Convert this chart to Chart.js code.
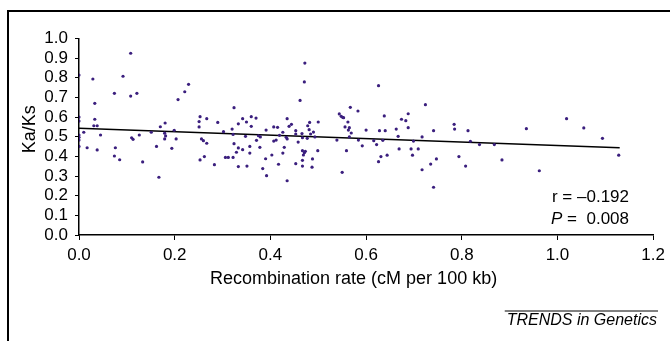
<!DOCTYPE html>
<html>
<head>
<meta charset="utf-8">
<script src="https://cdn.jsdelivr.net/npm/chart.js@4"></script>
<style>
  body { margin: 0; background: #fff; }
  canvas { display: block; }
</style>
</head>
<body>
<canvas id="chart" width="670" height="341"></canvas>
<script>
// recombination rate (cM per 100 kb) for each gene
const recombRate = [
  0.000, 0.029, 0.092, 0.074, 0.108, 0.121, 0.229, 0.221, 0.207, 0.033,
  0.000, 0.000, 0.033, 0.031, 0.038, 0.010, 0.000, 0.000, 0.000, 0.045,
  0.000, 0.017, 0.038, 0.074, 0.076, 0.085, 0.110, 0.113, 0.126, 0.133,
  0.151, 0.162, 0.167, 0.170, 0.180, 0.179, 0.181, 0.179, 0.199, 0.203,
  0.194, 0.253, 0.251, 0.251, 0.267, 0.290, 0.302, 0.256, 0.260, 0.267,
  0.253, 0.262, 0.283, 0.108,
  0.472, 0.471, 0.462, 0.324, 0.544, 0.548, 0.551, 0.553, 0.567, 0.583,
  0.562, 0.556, 0.565, 0.563, 0.569, 0.600, 0.565, 0.584, 0.539, 0.592,
  0.559, 0.550, 0.342, 0.360, 0.370, 0.350, 0.333, 0.360, 0.320, 0.322,
  0.348, 0.375, 0.379, 0.371, 0.391, 0.407, 0.415, 0.435, 0.444, 0.439,
  0.426, 0.419, 0.433, 0.435, 0.407, 0.412, 0.453, 0.453, 0.466, 0.458,
  0.482, 0.478, 0.500, 0.481, 0.490, 0.484, 0.477, 0.467, 0.493, 0.324,
  0.333, 0.342, 0.329, 0.357, 0.357, 0.378, 0.306, 0.312, 0.322, 0.333,
  0.351, 0.384, 0.392, 0.390, 0.403, 0.426, 0.429, 0.417, 0.435, 0.453,
  0.467, 0.467, 0.467, 0.471, 0.473, 0.469, 0.488, 0.487, 0.499,
  0.626, 0.724, 0.638, 0.688, 0.674, 0.683, 0.688, 0.663, 0.628, 0.640,
  0.667, 0.741, 0.784, 0.785, 0.813, 0.717, 0.699, 0.616, 0.635, 0.622,
  0.669, 0.694, 0.709, 0.697, 0.631, 0.644, 0.626, 0.747, 0.735, 0.717,
  0.741, 0.794, 0.808, 0.818, 0.837, 0.868, 0.884,
  1.019, 0.935, 1.055, 1.094, 0.962, 1.128
];

// Ka/Ks for the same genes
const kaKs = [
  0.814, 0.794, 0.808, 0.721, 0.707, 0.721, 0.767, 0.729, 0.689, 0.670,
  0.600, 0.580, 0.589, 0.556, 0.556, 0.523, 0.509, 0.497, 0.483, 0.509,
  0.451, 0.444, 0.433, 0.402, 0.444, 0.383, 0.495, 0.487, 0.509, 0.372,
  0.523, 0.451, 0.294, 0.551, 0.570, 0.518, 0.504, 0.489, 0.533, 0.489,
  0.441, 0.602, 0.577, 0.550, 0.592, 0.573, 0.526, 0.489, 0.480, 0.467,
  0.382, 0.399, 0.358, 0.925,
  0.875, 0.779, 0.685, 0.648, 0.616, 0.604, 0.599, 0.597, 0.650, 0.631,
  0.575, 0.550, 0.546, 0.534, 0.519, 0.534, 0.499, 0.483, 0.483, 0.454,
  0.429, 0.319, 0.592, 0.602, 0.595, 0.575, 0.566, 0.553, 0.539, 0.512,
  0.502, 0.505, 0.499, 0.482, 0.534, 0.550, 0.548, 0.592, 0.563, 0.553,
  0.523, 0.507, 0.497, 0.489, 0.478, 0.483, 0.531, 0.514, 0.516, 0.473,
  0.573, 0.556, 0.575, 0.536, 0.524, 0.514, 0.492, 0.495, 0.499, 0.465,
  0.443, 0.434, 0.421, 0.451, 0.417, 0.446, 0.395, 0.395, 0.395, 0.348,
  0.351, 0.338, 0.302, 0.388, 0.407, 0.417, 0.446, 0.360, 0.276, 0.363,
  0.351, 0.380, 0.429, 0.419, 0.426, 0.407, 0.387, 0.345, 0.429,
  0.760, 0.663, 0.606, 0.617, 0.589, 0.582, 0.546, 0.539, 0.531, 0.531,
  0.502, 0.531, 0.563, 0.539, 0.531, 0.499, 0.478, 0.480, 0.482, 0.460,
  0.438, 0.438, 0.438, 0.406, 0.399, 0.406, 0.373, 0.387, 0.361, 0.332,
  0.243, 0.399, 0.351, 0.477, 0.460, 0.460, 0.382,
  0.592, 0.541, 0.545, 0.492, 0.327, 0.406
];

// regression line end points as drawn in the figure
const fitX = [0, 1.13];
const fitY = [0.543, 0.444];

const xTicks = { min: 0, max: 1.2, step: 0.2 };
const yTicks = { min: 0, max: 1.0, step: 0.1 };

const stats = { r: 'r = \u20130.192', p: '0.008' };

const FONT = '"Liberation Sans", Arial, sans-serif';

const points = recombRate.map((x, i) => ({ x: x, y: kaKs[i] }));
const fitLine = fitX.map((x, i) => ({ x: x, y: fitY[i] }));

// frame, stats text and journal footer
const decorations = {
    id: 'decorations',
    afterDraw(chart) {
        const ctx = chart.ctx;
        ctx.save();
        ctx.fillStyle = '#000';
        ctx.strokeStyle = '#000';

        // figure frame (top and left edges visible)
        ctx.lineWidth = 2;
        ctx.beginPath();
        ctx.moveTo(670, 11);
        ctx.lineTo(8, 11);
        ctx.lineTo(8, 341);
        ctx.stroke();

        // r and P
        ctx.textAlign = 'right';
        ctx.textBaseline = 'middle';
        ctx.font = '17px ' + FONT;
        ctx.fillText(stats.r, 629, 197);
        const rest = '=  ' + stats.p;
        ctx.fillText(rest, 629, 219);
        const w = ctx.measureText(rest).width;
        ctx.font = 'italic 17px ' + FONT;
        ctx.fillText('P ', 629 - w, 219);

        // footer
        ctx.font = 'italic 16px ' + FONT;
        ctx.fillText('TRENDS in Genetics', 657, 321);
        const fw = ctx.measureText('TRENDS in Genetics').width;
        ctx.lineWidth = 1;
        ctx.beginPath();
        ctx.moveTo(657 - fw - 2, 311);
        ctx.lineTo(658, 311);
        ctx.stroke();
        ctx.restore();
    }
};

new Chart(document.getElementById('chart'), {
    type: 'scatter',
    data: {
        datasets: [
            {
                data: points,
                backgroundColor: '#3b1f7e',
                borderWidth: 0,
                pointRadius: 1.6
            },
            {
                type: 'line',
                data: fitLine,
                borderColor: '#000',
                borderWidth: 1.5,
                pointRadius: 0,
                fill: false
            }
        ]
    },
    options: {
        responsive: false,
        animation: false,
        layout: {
            padding: { top: 38.5, right: 15, bottom: 51, left: 0 }
        },
        plugins: {
            legend: { display: false },
            tooltip: { enabled: false }
        },
        scales: {
            x: {
                type: 'linear',
                min: xTicks.min,
                max: xTicks.max,
                afterFit: (scale) => { scale.height = 55; },
                border: { color: '#000', width: 1.5 },
                grid: { drawOnChartArea: false, tickLength: 5, tickColor: '#000' },
                ticks: {
                    stepSize: xTicks.step,
                    autoSkip: false,
                    maxRotation: 0,
                    color: '#000',
                    padding: 5,
                    font: { family: FONT, size: 17 },
                    callback: (v) => v.toFixed(1)
                },
                title: {
                    display: true,
                    // trailing spaces nudge the centred title left, as in the original
                    text: 'Recombination rate (cM per 100 kb)     ',
                    color: '#000',
                    font: { family: FONT, size: 18 },
                    padding: { top: 4, bottom: 0 }
                }
            },
            y: {
                min: yTicks.min,
                max: yTicks.max,
                afterFit: (scale) => { scale.width = 79; },
                border: { color: '#000', width: 1.5 },
                grid: { drawOnChartArea: false, tickLength: 4, tickColor: '#000' },
                ticks: {
                    stepSize: yTicks.step,
                    autoSkip: false,
                    color: '#000',
                    padding: 7,
                    font: { family: FONT, size: 17 },
                    callback: (v) => v.toFixed(1)
                },
                title: {
                    display: true,
                    text: '   Ka/Ks',
                    color: '#000',
                    font: { family: FONT, size: 18 },
                    padding: { top: 19, bottom: 0 }
                }
            }
        }
    },
    plugins: [decorations]
});
</script>
</body>
</html>
